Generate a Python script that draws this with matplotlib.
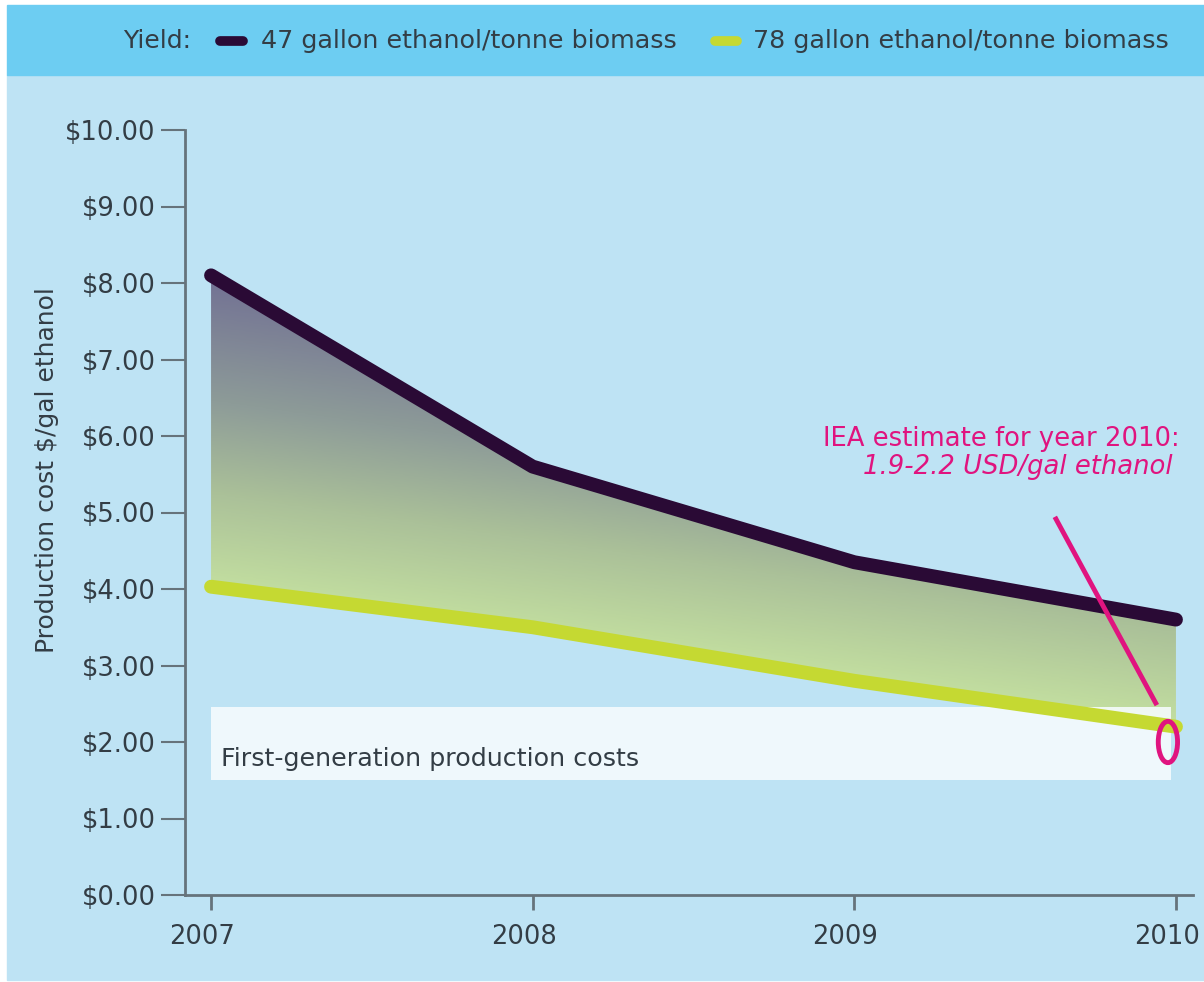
import numpy as np
import matplotlib.pyplot as plt
import matplotlib.transforms as mtransforms
from matplotlib.colors import LinearSegmentedColormap
from matplotlib.patches import Rectangle, Ellipse
from matplotlib.lines import Line2D

years = [2007, 2008, 2009, 2010]
cost_47 = [8.10, 5.60, 4.35, 3.60]   # 47 gallon ethanol/tonne biomass
cost_78 = [4.03, 3.50, 2.80, 2.20]   # 78 gallon ethanol/tonne biomass
yticks = [0, 1, 2, 3, 4, 5, 6, 7, 8, 9, 10]
ytick_labels = ["$%.2f" % v for v in yticks]
first_gen_low, first_gen_high = 1.50, 2.46

bg = "#bee3f4"
banner = "#6dcdf2"
dark = "#2a0a35"
green = "#c5d932"
magenta = "#e0147f"
txt = "#333d45"
axcol = "#66737b"

plt.rcParams['font.family'] = ['DejaVu Sans']

fig = plt.figure(figsize=(12.04, 9.82), dpi=100)
fig.patch.set_facecolor("white")

# background panels (behind the axes)
fig.patches.append(Rectangle((7 / 1204, 1 - 980 / 982), 1197 / 1204, (980 - 75) / 982,
                             transform=fig.transFigure, color=bg, zorder=-2))
fig.patches.append(Rectangle((7 / 1204, 1 - 75 / 982), 1197 / 1204, 70 / 982,
                             transform=fig.transFigure, color=banner, zorder=-2))

# legend in banner
fy = 1 - 41 / 982
fig.text(191 / 1204, fy, "Yield:", ha="right", va="center", fontsize=18, color=txt)
fig.add_artist(Line2D([220 / 1204, 243 / 1204], [fy, fy], color=dark, lw=7,
                      solid_capstyle="round", transform=fig.transFigure))
fig.text(261 / 1204, fy, "47 gallon ethanol/tonne biomass", ha="left", va="center",
         fontsize=18.3, color=txt)
fig.add_artist(Line2D([715 / 1204, 737 / 1204], [fy, fy], color=green, lw=7,
                      solid_capstyle="round", transform=fig.transFigure))
fig.text(753 / 1204, fy, "78 gallon ethanol/tonne biomass", ha="left", va="center",
         fontsize=18.3, color=txt)

ax = fig.add_axes([185 / 1204, 1 - 895 / 982, (1193 - 185) / 1204, (895 - 130) / 982])
ax.set_facecolor("none")
ax.set_xlim(2006.919, 2010.053)
ax.set_ylim(0, 10)

# gradient fill between the two series (slanted gradient: purple top-left, pale green low)
cmap = LinearSegmentedColormap.from_list(
    "g", [(0.0, "#c3dfa0"), (0.3, "#abc199"), (0.6, "#8d9b98"), (1.0, "#727194")])
gx, gy = np.meshgrid(np.linspace(2007, 2010, 200), np.linspace(2.0, 8.2, 300))
shade = np.clip((gy - 4.0 + 0.6 * (gx - 2007)) / 4.1, 0, 1)
im = ax.imshow(shade, extent=[2007, 2010, 2.0, 8.2], origin="lower", aspect="auto",
               cmap=cmap, vmin=0, vmax=1, zorder=1)
poly = ax.fill_between(years, cost_78, cost_47, color="none", lw=0)
im.set_clip_path(poly.get_paths()[0], transform=ax.transData)

# first-generation band
ax.add_patch(Rectangle((2007, first_gen_low), 2009.985 - 2007, first_gen_high - first_gen_low,
                       facecolor="#f6fcfe", alpha=0.88, lw=0, zorder=2))
ax.text(2007.03, 1.78, "First-generation production costs", fontsize=18.3, color=txt,
        ha="left", va="center", zorder=5)

ax.plot(years, cost_47, color=dark, lw=10, solid_capstyle="round", solid_joinstyle="round", zorder=3)
ax.plot(years, cost_78, color=green, lw=10, solid_capstyle="round", solid_joinstyle="round", zorder=3)

# IEA annotation
ax.plot([2009.627, 2009.937], [4.915, 2.51], color=magenta, lw=3.5, zorder=5)
ax.add_patch(Ellipse((2009.975, 2.0), 0.06, 0.54, fill=False, edgecolor=magenta, lw=3.5, zorder=6))
ax.text(2010.012, 5.96, "IEA estimate for year 2010:", ha="right", va="center",
        fontsize=18.6, color=magenta)
ax.text(2009.99, 5.60, "1.9-2.2 USD/gal ethanol", ha="right", va="center",
        fontsize=18.6, color=magenta, style="italic")

# axes styling
for s in ["top", "right"]:
    ax.spines[s].set_visible(False)
for s in ["left", "bottom"]:
    ax.spines[s].set_color(axcol)
    ax.spines[s].set_linewidth(2)
ax.set_yticks(yticks)
ax.set_yticklabels(ytick_labels)
ax.set_xticks(years)
ax.set_xticklabels([str(y) for y in years])
ax.tick_params(axis="y", length=17, width=1.5, color=axcol, labelsize=18.5, labelcolor=txt, pad=4)
ax.tick_params(axis="x", length=11, width=2, color=axcol, labelsize=18.5, labelcolor=txt, pad=10)
shift = mtransforms.ScaledTranslation(-9 / 100, 0, fig.dpi_scale_trans)
for lab in ax.get_xticklabels():
    lab.set_transform(lab.get_transform() + shift)
ax.set_ylabel("Production cost $/gal ethanol", fontsize=18, color=txt)
ax.yaxis.set_label_coords(-0.125, 0.556)

fig.savefig("out.png", dpi=100, facecolor=fig.get_facecolor())
